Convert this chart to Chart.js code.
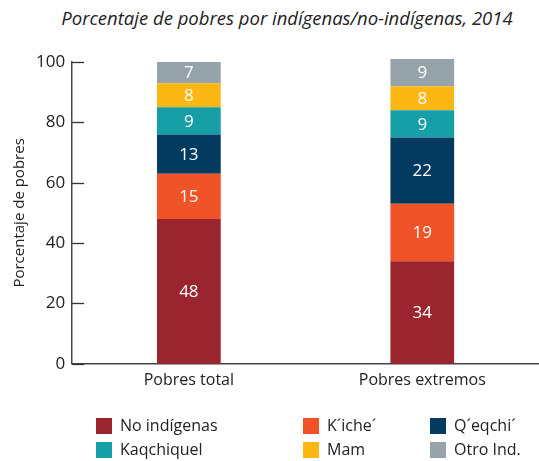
<!DOCTYPE html>
<html><head><meta charset="utf-8">
<script src="https://cdn.jsdelivr.net/npm/chart.js@4.4.1/dist/chart.umd.min.js"></script>
<style>
html,body{margin:0;padding:0;background:#fff;}
#wrap{position:relative;width:539px;height:461px;font-family:"Open Sans",Roboto,sans-serif;color:#222;}
#title{position:absolute;left:0;top:5px;width:574px;text-align:center;font-style:italic;font-size:18.5px;color:#222;}
#c{position:absolute;left:0;top:0;}
.lg{position:absolute;font-size:16px;color:#222;white-space:nowrap;line-height:20px;}
.lg span{display:inline-block;width:16px;height:16px;vertical-align:-3px;margin-right:8px;}
</style></head>
<body><div id="wrap"><div id="title">Porcentaje de pobres por indígenas/no-indígenas, 2014</div><canvas id="c" width="539" height="461"></canvas></div>
<script>
const categories = ["Pobres total", "Pobres extremos"];
const seriesNames = ["No indígenas", "K´iche´", "Q´eqchi´", "Kaqchiquel", "Mam", "Otro Ind."];
const seriesColors = ["#9B252E", "#F05327", "#033A60", "#169FA7", "#FDB715", "#96A3AA"];
const noIndigenas = [48, 34];
const kiche = [15, 19];
const qeqchi = [13, 22];
const kaqchiquel = [9, 9];
const mam = [8, 8];
const otroInd = [7, 9];
const yTicks = [0, 20, 40, 60, 80, 100];
const seriesValues = [noIndigenas, kiche, qeqchi, kaqchiquel, mam, otroInd];

const FONT = "'Open Sans', Roboto, sans-serif";

const datasets = seriesNames.map((n, i) => ({
  label: n, data: seriesValues[i], backgroundColor: seriesColors[i],
  borderWidth: 0, barPercentage: 0.273, categoryPercentage: 1, clip: false
}));

const innerTicks = {
  id: 'innerTicks',
  afterDatasetsDraw(chart) {
    const ctx = chart.ctx, y = chart.scales.y, a = chart.chartArea;
    ctx.save();
    ctx.strokeStyle = '#333'; ctx.lineWidth = 1.3;
    yTicks.forEach(v => {
      const p = Math.round(y.getPixelForValue(v)) + 0.5;
      ctx.beginPath(); ctx.moveTo(a.left, p); ctx.lineTo(a.left + 12, p); ctx.stroke();
    });
    ctx.restore();
  }
};
const valueLabels = {
  id: 'valueLabels',
  afterDatasetsDraw(chart) {
    const ctx = chart.ctx;
    ctx.save();
    ctx.fillStyle = '#fff'; ctx.font = '17px ' + FONT;
    ctx.textAlign = 'center'; ctx.textBaseline = 'middle';
    chart.data.datasets.forEach((ds, i) => {
      chart.getDatasetMeta(i).data.forEach((el, j) => {
        ctx.fillText(String(ds.data[j]), el.x, (el.y + el.base) / 2 + 1);
      });
    });
    ctx.restore();
  }
};

new Chart(document.getElementById('c'), {
  type: 'bar',
  data: { labels: categories, datasets },
  options: {
    responsive: false, animation: false,
    layout: { padding: { top: 62, right: 0, bottom: 64, left: 11 } },
    plugins: { legend: { display: false }, title: { display: false }, tooltip: { enabled: false } },
    scales: {
      x: { stacked: true,
        grid: { display: false, drawTicks: false },
        border: { display: true, color: '#444', width: 1.5 },
        ticks: { color: '#222', font: { size: 16, family: FONT }, padding: 7 } },
      y: { stacked: true, min: 0, max: 100,
        afterBuildTicks: s => { s.ticks = yTicks.map(v => ({ value: v })); },
        grid: { display: false, drawTicks: false },
        border: { display: true, color: '#444', width: 1.5 },
        ticks: { color: '#222', font: { size: 17, family: FONT }, padding: 7 },
        title: { display: true, text: 'Porcentaje de pobres', color: '#222', font: { size: 15, family: FONT }, padding: { top: 0, bottom: 0 } } }
    }
  },
  plugins: [innerTicks, valueLabels]
});

const wrap = document.getElementById('wrap');
const cols = [96, 303, 430], rows = [415, 439];
seriesNames.forEach((n, i) => {
  const d = document.createElement('div');
  d.className = 'lg';
  d.style.left = cols[i % 3] + 'px';
  d.style.top = rows[Math.floor(i / 3)] + 'px';
  const sw = document.createElement('span');
  sw.style.background = seriesColors[i];
  d.appendChild(sw);
  d.appendChild(document.createTextNode(n));
  wrap.appendChild(d);
});
</script></body></html>
